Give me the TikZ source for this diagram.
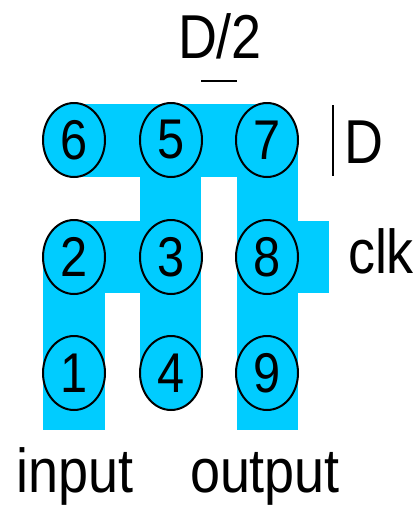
\documentclass[tikz,border=0pt]{standalone}
\usepackage{fontspec}
\setmainfont{Liberation Sans}[FakeStretch=0.87]
\usetikzlibrary{shapes.geometric}
\definecolor{cyanblue}{RGB}{0,204,255}
\tikzset{
  pad/.style={shape=ellipse, draw=black, line width=2pt, fill=cyanblue,
    minimum width=62pt, minimum height=74pt, inner sep=0pt,
    font=\fontsize{56}{56}\selectfont},
  lbl/.style={anchor=base, inner sep=0pt, font=\fontsize{62}{62}\selectfont},
  band/.style={fill=cyanblue, draw=none}
}
\begin{document}
\begin{tikzpicture}[x=1pt, y=-1pt]
\useasboundingbox (0,0) rectangle (418,507);
% blue bands
\fill[band] (74,104) rectangle (267,177);
\fill[band] (237,140) rectangle (298,430);
\fill[band] (140,140) rectangle (201,373);
\fill[band] (74,221) rectangle (201,293);
\fill[band] (43,257) rectangle (105,430);
\fill[band] (267,221) rectangle (329,293);
% pads
\node[pad] (p6) at (74,140) {6};
\node[pad] (p5) at (171,140) {5};
\node[pad] (p7) at (267,140) {7};
\node[pad] (p2) at (74,257) {2};
\node[pad] (p3) at (171,257) {3};
\node[pad] (p8) at (267,257) {8};
\node[pad] (p1) at (74,373) {1};
\node[pad] (p4) at (171,373) {4};
\node[pad] (p9) at (267,373) {9};
% labels
\node[lbl] (dhalf) at (220,58) {D/2};
\coordinate (hb1) at (201,81);
\coordinate (hb2) at (237,81);
\draw[line width=2pt] (hb1) -- (hb2);
\coordinate (vb1) at (333,105);
\coordinate (vb2) at (333,176);
\draw[line width=2pt] (vb1) -- (vb2);
\node[lbl] (dlab) at (363.5,163) {D};
\node[lbl] (clk) at (381,273) {clk};
\node[lbl] (inp) at (75,492) {input};
\node[lbl] (outp) at (265,492) {output};
\end{tikzpicture}
\end{document}
